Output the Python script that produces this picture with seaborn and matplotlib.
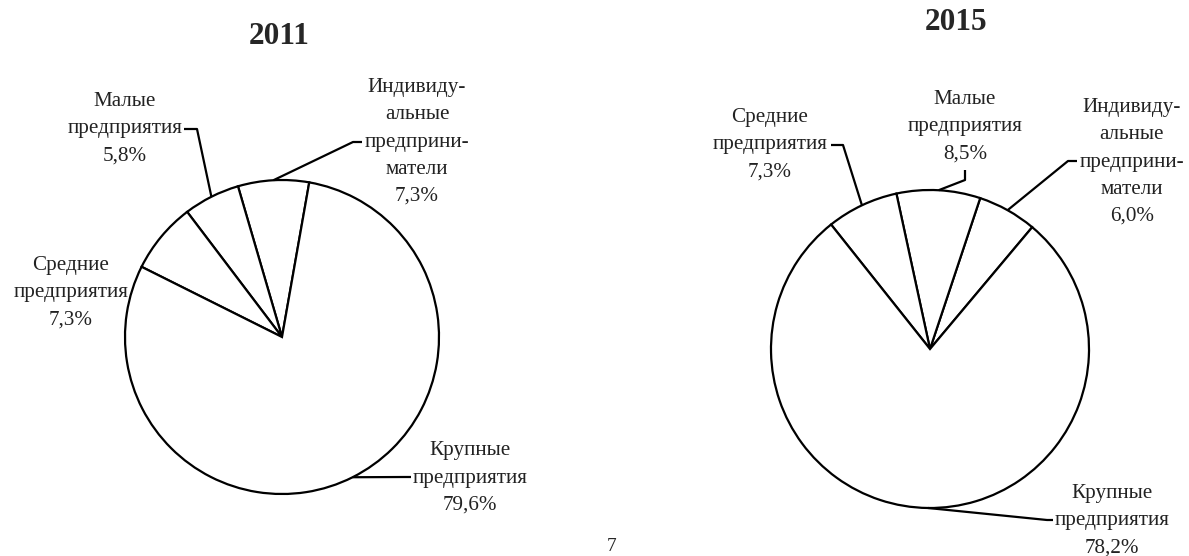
import numpy as np
import matplotlib
matplotlib.use("Agg")
import matplotlib.pyplot as plt
import seaborn as sns

# data
groups = ["Индивиду-\nальные\nпредприни-\nматели", "Малые\nпредприятия",
          "Средние\nпредприятия", "Крупные\nпредприятия"]
years = ["2011", "2015"]
shares_2011 = [7.3, 5.8, 7.3, 79.6]
shares_2015 = [6.0, 8.5, 7.3, 78.2]
page_number = "7"

# layout in pixels (y measured from the top of the image)
W, H = 1189, 556
pies = {
    "2011": dict(center=(282, 337), radius=157, start=80, title=(279, 37),
                 text=[(417, 142), (125, 129), (71, 293), (470, 478)],
                 leader=[[(353, 142), (362, 142)], [(197, 129), (184, 129)],
                         None, [(405, 477), (411, 477)]]),
    "2015": dict(center=(930, 349), radius=159, start=50, title=(956, 23),
                 text=[(1132, 162), (965, 127), (770, 145), (1112, 521)],
                 leader=[[(1068, 161), (1077, 161)], [(965, 180), (965, 170)],
                         [(843, 145), (831, 145)], [(1047, 520), (1053, 520)]]),
}


def fmt(v):
    return f"{v:.1f}".replace(".", ",") + "%"


sns.set_theme(style="white")
plt.rcParams["font.family"] = ["Liberation Serif", "DejaVu Serif"]

fig = plt.figure(figsize=(W / 100, H / 100), dpi=100)
ax = fig.add_axes([0, 0, 1, 1])
ax.set_xlim(0, W)
ax.set_ylim(0, H)
ax.set_aspect("equal")
ax.axis("off")

for year, shares in zip(years, [shares_2011, shares_2015]):
    p = pies[year]
    cx, cy = p["center"][0], H - p["center"][1]
    r = p["radius"]
    wedges, _ = ax.pie(shares, center=(cx, cy), radius=r, startangle=p["start"],
                       counterclock=True, frame=True,
                       colors=["white"] * len(shares),
                       wedgeprops=dict(edgecolor="black", linewidth=1.6))
    tx, ty = p["title"]
    ax.text(tx, H - ty, year, ha="center", va="center", fontsize=22.5, fontweight="bold")

    for i, w in enumerate(wedges):
        lx, ly = p["text"][i]
        ax.text(lx, H - ly, groups[i] + "\n" + fmt(shares[i]), ha="center", va="center",
                fontsize=15.2, linespacing=1.58, color="#222222")
        if p["leader"][i] is None:
            continue
        mid = np.deg2rad((w.theta1 + w.theta2) / 2)
        xs = [cx + r * np.cos(mid)] + [pt[0] for pt in p["leader"][i]]
        ys = [cy + r * np.sin(mid)] + [H - pt[1] for pt in p["leader"][i]]
        ax.plot(xs, ys, color="black", linewidth=1.6, solid_capstyle="butt")

ax.text(612, 1, page_number, ha="center", va="bottom", fontsize=14)

fig.savefig("out.png", dpi=100)
